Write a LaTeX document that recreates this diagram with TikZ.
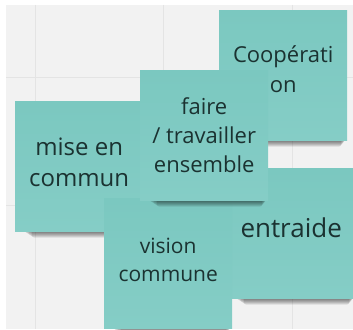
\documentclass[tikz,border=0pt]{standalone}
\usepackage{fontspec}
\setmainfont{Open Sans}
\definecolor{bgray}{HTML}{F2F2F2}
\definecolor{gridc}{HTML}{E4E4E4}
\definecolor{noteA}{HTML}{7BC8C0}
\definecolor{noteB}{HTML}{85CDC6}
\definecolor{ink}{HTML}{1B3231}
\tikzset{
  note/.style={minimum width=128pt, minimum height=130pt, inner sep=0pt,
    top color=noteA, bottom color=noteB},
  notetext/.style={inner sep=0pt, align=center, text=ink},
  gridline/.style={draw=gridc, line width=0.8pt},
  shadowpart/.style={fill=black, opacity=0.095, rounded corners=2pt},
}
% #1 name, #2 left, #3 top, #4 font size, #5 baselineskip, #6 text shift, #7 text
\newcommand\sticky[7]{%
  \foreach \k in {1,...,6}{%
    \fill[shadowpart] ({#2+8+1.5*\k},{#3+126}) rectangle ({#2+127-0.8*\k},{#3+130.5+\k});}
  \node[note, anchor=north west] (#1) at (#2,#3) {};
  \node[notetext, font=\fontsize{#4}{#5}\selectfont] (#1-t) at ([yshift=#6]#1.center) {#7};
}
\begin{document}
\begin{tikzpicture}[x=1pt, y=-1pt]
  \useasboundingbox (0,0) rectangle (353,329);
  \clip (0,0) rectangle (353,329);
  \fill[white] (0,0) rectangle (353,329);
  \fill[bgray] (6,5) rectangle (353,329);
  \draw[gridline] (35,5) -- (35,329);
  \draw[gridline] (163,5) -- (163,329);
  \draw[gridline] (292,5) -- (292,329);
  \draw[gridline] (6,77) -- (353,77);
  \draw[gridline] (6,205) -- (353,205);
  \sticky{coop}{219}{10}{22}{30}{6pt}{Coopérati\\on}
  \sticky{mise}{15}{101}{24}{31}{4pt}{mise en\\commun}
  \sticky{entraide}{227}{168}{26}{30}{5pt}{entraide}
  \sticky{vision}{104}{198}{21}{28}{3pt}{vision\\commune}
  \sticky{faire}{140}{70}{22}{29}{0pt}{faire\\/ travailler\\ensemble}
\end{tikzpicture}
\end{document}
